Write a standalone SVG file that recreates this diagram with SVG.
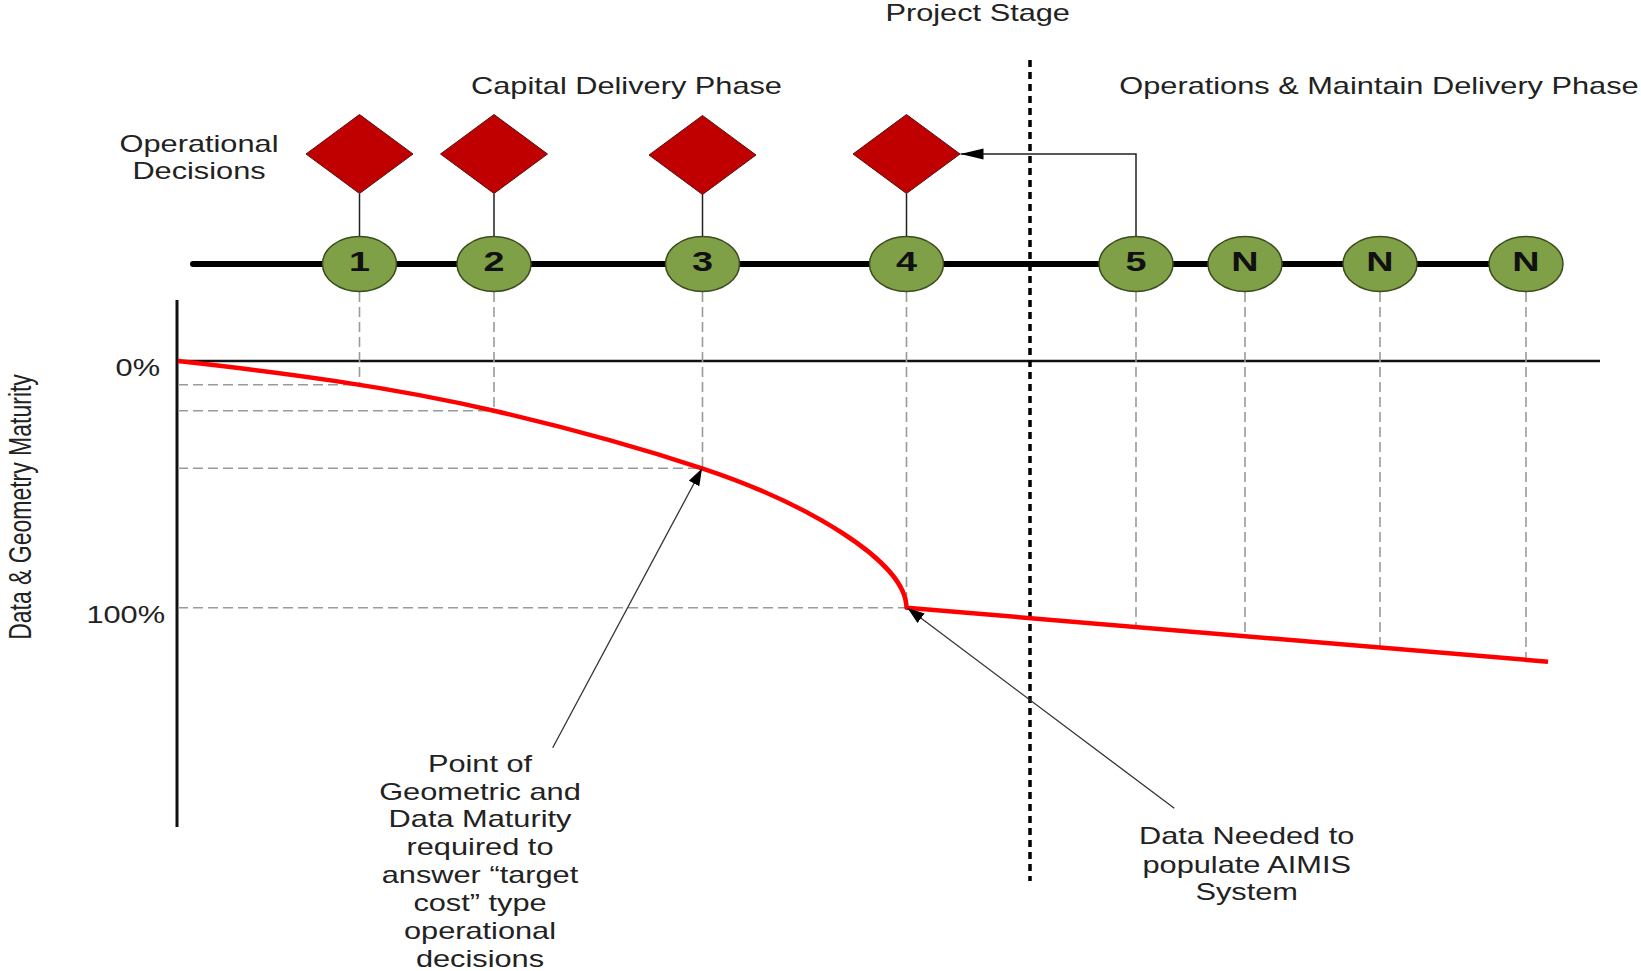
<svg xmlns="http://www.w3.org/2000/svg" width="1641" height="971" viewBox="0 0 1641 971">
<defs>
<style>
.t{font-family:"Liberation Sans",Arial,sans-serif;font-size:23px;fill:#222;}
.n{font-family:"Liberation Sans",Arial,sans-serif;font-size:27px;font-weight:bold;fill:#111;}
.ell{fill:#80a048;stroke:#3b4d1f;stroke-width:1.5;}
.dia{fill:#c00000;stroke:#5a1010;stroke-width:1;}
.stem{stroke:#222;stroke-width:1.5;fill:none;}
.guide{stroke:#9a9a9a;stroke-width:1.6;stroke-dasharray:10 5;fill:none;}
.call{stroke:#333;stroke-width:1.3;fill:none;}
</style>
<marker id="ah" markerUnits="userSpaceOnUse" markerWidth="18" markerHeight="12" refX="17" refY="6" orient="auto">
<path d="M0,0 L17,6 L0,12 z" fill="#000"/>
</marker>
<marker id="ah2" markerUnits="userSpaceOnUse" markerWidth="24" markerHeight="12" refX="23" refY="5.5" orient="auto">
<path d="M0,0 L23,5.5 L0,11 z" fill="#000"/>
</marker>
</defs>
<rect width="1641" height="971" fill="#fff"/>

<!-- titles -->
<text class="t" text-anchor="middle" transform="translate(977.7,20.7) scale(1.337,1)">Project Stage</text>
<text class="t" text-anchor="middle" transform="translate(626.5,94) scale(1.337,1)">Capital Delivery Phase</text>
<text class="t" text-anchor="middle" transform="translate(1379,94) scale(1.337,1)">Operations &amp; Maintain Delivery Phase</text>
<text class="t" text-anchor="middle" transform="translate(199,152) scale(1.337,1)">Operational</text>
<text class="t" text-anchor="middle" transform="translate(199,179) scale(1.337,1)">Decisions</text>

<!-- axes -->
<g id="axes">
<line x1="177" y1="300" x2="177" y2="827" stroke="#111" stroke-width="3"/>
<line x1="177" y1="361" x2="1600" y2="361" stroke="#111" stroke-width="2.5"/>
<line x1="1030" y1="60" x2="1030" y2="881" stroke="#000" stroke-width="3.5" stroke-dasharray="7 5"/>
<text class="t" text-anchor="end" transform="translate(160,376) scale(1.337,1)">0%</text>
<text class="t" text-anchor="end" transform="translate(165,622.7) scale(1.337,1)">100%</text>
<text class="t" text-anchor="middle" transform="translate(31,507) scale(1.337,1) rotate(-90)">Data &amp; Geometry Maturity</text>
</g>

<!-- guide lines -->
<g id="guides">
<path class="guide" d="M359.5,292 V384.7 M494,292 V410.7 M702.5,292 V468.3 M906.5,292 V607.7 M1136,292 V627 M1245,292 V636.2 M1380,292 V647.6 M1526,292 V659.9"/>
<path class="guide" d="M178,384.7 H359.5 M178,410.7 H494 M178,468.3 H702.5 M178,607.7 H906.5"/>
</g>

<!-- maturity curve -->
<path id="curve" d="M178,361 C283,372.6 389,386.5 494,410.7 C563,426.6 633,445.5 702,468.3 C802,501.3 906,560 906.5,607.7 L1548,661.7" fill="none" stroke="#ff0000" stroke-width="4.5" stroke-linejoin="round"/>

<!-- connectors -->
<g id="connectors">
<line x1="193" y1="264" x2="1526" y2="264" stroke="#000" stroke-width="6" stroke-linecap="round"/>
<path class="stem" d="M359.5,193.5 V236.5 M494,193.5 V236.5 M702.5,193.5 V236.5 M906.5,193.5 V236.5"/>
<path class="stem" d="M1136,236.5 V154 H960.5" stroke="#444" marker-end="url(#ah2)"/>
<line class="call" x1="552.7" y1="747.7" x2="702" y2="468.5" marker-end="url(#ah)"/>
<line class="call" x1="1174.3" y1="808.3" x2="907.5" y2="608" marker-end="url(#ah)"/>
</g>

<!-- decision diamonds -->
<g id="decision-1"><polygon class="dia" points="359.5,114.5 413,154 359.5,193.5 306,154"/></g>
<g id="decision-2"><polygon class="dia" points="494,114.5 547.5,154 494,193.5 440.5,154"/></g>
<g id="decision-3"><polygon class="dia" points="702.5,115.5 756,155 702.5,194.5 649,155"/></g>
<g id="decision-4"><polygon class="dia" points="906.5,114.5 960,154 906.5,193.5 853,154"/></g>

<!-- stage nodes -->
<g id="stage-1"><ellipse class="ell" cx="359.5" cy="264" rx="37" ry="27.5"/><text class="n" text-anchor="middle" transform="translate(359.5,271) scale(1.4,1)">1</text></g>
<g id="stage-2"><ellipse class="ell" cx="494" cy="264" rx="37" ry="27.5"/><text class="n" text-anchor="middle" transform="translate(494,271) scale(1.4,1)">2</text></g>
<g id="stage-3"><ellipse class="ell" cx="702.5" cy="264" rx="37" ry="27.5"/><text class="n" text-anchor="middle" transform="translate(702.5,271) scale(1.4,1)">3</text></g>
<g id="stage-4"><ellipse class="ell" cx="906.5" cy="264" rx="37" ry="27.5"/><text class="n" text-anchor="middle" transform="translate(906.5,271) scale(1.4,1)">4</text></g>
<g id="stage-5"><ellipse class="ell" cx="1136" cy="264" rx="37" ry="27.5"/><text class="n" text-anchor="middle" transform="translate(1136,271) scale(1.4,1)">5</text></g>
<g id="stage-n1"><ellipse class="ell" cx="1245" cy="264" rx="37" ry="27.5"/><text class="n" text-anchor="middle" transform="translate(1245,271) scale(1.4,1)">N</text></g>
<g id="stage-n2"><ellipse class="ell" cx="1380" cy="264" rx="37" ry="27.5"/><text class="n" text-anchor="middle" transform="translate(1380,271) scale(1.4,1)">N</text></g>
<g id="stage-n3"><ellipse class="ell" cx="1526" cy="264" rx="37" ry="27.5"/><text class="n" text-anchor="middle" transform="translate(1526,271) scale(1.4,1)">N</text></g>

<!-- callout labels -->
<g id="label-maturity">
<text class="t" text-anchor="middle" transform="translate(480,772.3) scale(1.337,1)">Point of</text>
<text class="t" text-anchor="middle" transform="translate(480,799.8) scale(1.337,1)">Geometric and</text>
<text class="t" text-anchor="middle" transform="translate(480,827.3) scale(1.337,1)">Data Maturity</text>
<text class="t" text-anchor="middle" transform="translate(480,855) scale(1.337,1)">required to</text>
<text class="t" text-anchor="middle" transform="translate(480,882.7) scale(1.337,1)">answer “target</text>
<text class="t" text-anchor="middle" transform="translate(480,911) scale(1.337,1)">cost” type</text>
<text class="t" text-anchor="middle" transform="translate(480,939) scale(1.337,1)">operational</text>
<text class="t" text-anchor="middle" transform="translate(480,966.7) scale(1.337,1)">decisions</text>
</g>
<g id="label-aimis">
<text class="t" text-anchor="middle" transform="translate(1246.7,844.3) scale(1.337,1)">Data Needed to</text>
<text class="t" text-anchor="middle" transform="translate(1246.7,872.7) scale(1.337,1)">populate AIMIS</text>
<text class="t" text-anchor="middle" transform="translate(1246.7,900) scale(1.337,1)">System</text>
</g>
</svg>
